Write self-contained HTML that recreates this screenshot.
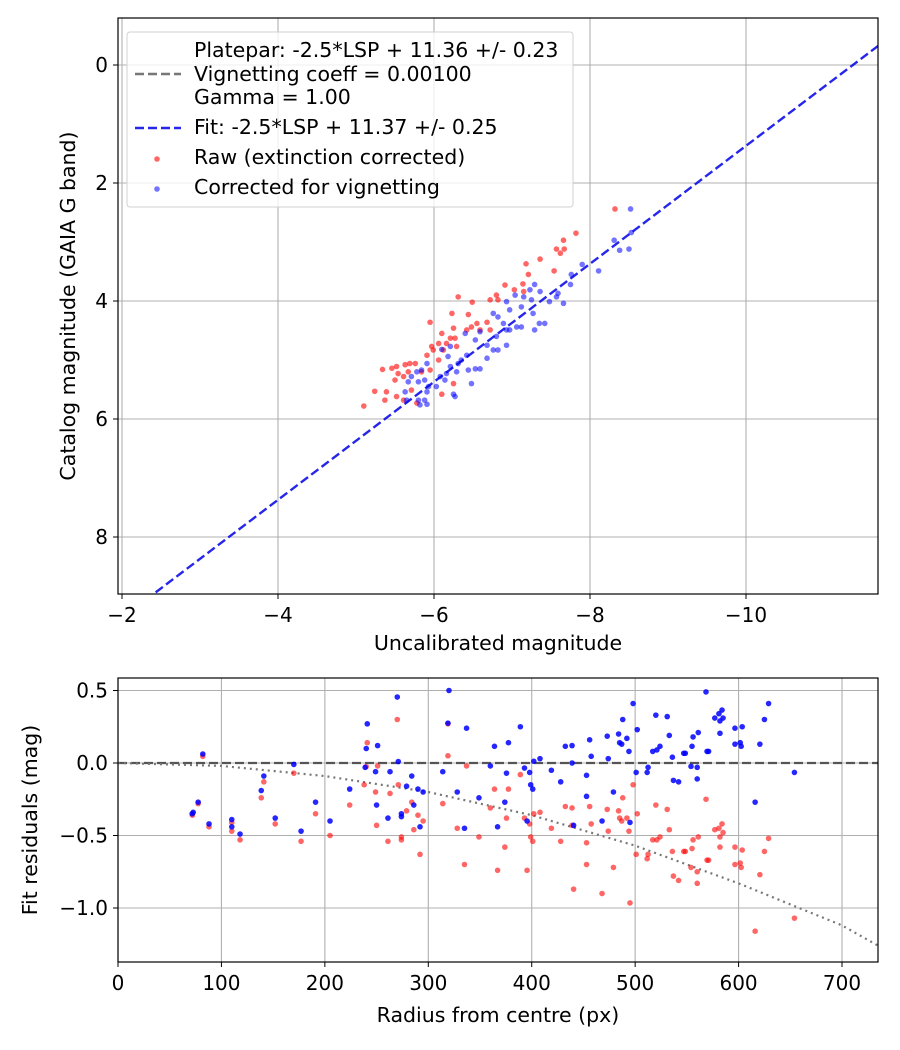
<!DOCTYPE html>
<html><head><meta charset="utf-8"><style>
html,body{margin:0;padding:0;background:#fff;}
svg{display:block;font-family:"DejaVu Sans","Liberation Sans",sans-serif;}
</style></head><body>
<svg id="fig" width="900" height="1050" viewBox="0 0 900 1050"></svg>
<script>
// ---------- Top chart data ----------
const rawX=[-8.32,-7.82,-7.66,-7.57,-7.67,-7.62,-7.36,-7.18,-7.54,-7.21,-6.91,-7.03,-7.14,-7.15,-6.80,-6.82,-6.72,-6.31,-6.49,-6.23,-6.44,-5.95,-6.55,-6.48,-6.68,-6.59,-6.72,-6.42,-6.25,-6.10,-6.21,-6.27,-6.06,-6.16,-5.97,-6.29,-5.99,-6.12,-5.91,-6.06,-5.76,-5.69,-5.63,-5.52,-5.46,-5.34,-5.54,-5.61,-5.50,-5.67,-5.84,-5.95,-5.71,-5.24,-5.39,-5.52,-5.37,-5.61,-5.78,-5.10,-6.10,-6.25];
const rawY=[2.44,2.85,2.97,3.12,3.12,3.19,3.29,3.37,3.49,3.55,3.73,3.81,3.71,3.84,3.90,3.98,3.98,3.93,4.02,4.21,4.23,4.36,4.38,4.44,4.36,4.49,4.49,4.49,4.46,4.55,4.63,4.63,4.72,4.72,4.77,4.77,4.83,4.83,4.92,5.00,5.06,5.06,5.08,5.11,5.14,5.16,5.23,5.28,5.34,5.20,5.20,5.17,5.51,5.53,5.54,5.62,5.68,5.68,5.73,5.78,5.58,5.40];
const corX=[-8.52,-8.31,-8.53,-8.38,-8.50,-8.11,-7.90,-7.76,-7.75,-7.57,-7.66,-7.59,-7.48,-7.36,-7.29,-7.23,-7.04,-6.93,-7.15,-7.25,-7.12,-6.97,-6.82,-6.76,-7.27,-7.35,-7.42,-7.29,-7.06,-6.93,-7.12,-6.89,-6.97,-6.80,-6.93,-6.82,-6.76,-6.68,-6.59,-6.53,-6.40,-6.68,-6.42,-6.35,-6.21,-6.10,-6.18,-6.31,-6.21,-6.29,-6.16,-6.44,-6.53,-6.59,-6.08,-6.14,-6.03,-6.48,-6.25,-6.27,-5.91,-5.84,-5.78,-5.80,-5.88,-5.71,-5.63,-5.91,-5.93,-5.65,-5.80,-5.88,-5.82,-5.91,-5.67];
const corY=[2.44,2.97,2.84,3.14,3.12,3.49,3.38,3.55,3.72,3.93,4.04,3.87,4.01,3.84,3.72,3.81,3.90,4.01,3.93,3.98,4.10,4.15,4.27,4.21,4.21,4.38,4.38,4.49,4.44,4.49,4.44,4.38,4.49,4.60,4.75,4.83,4.83,4.75,4.52,4.66,4.55,4.97,4.92,5.00,4.77,4.82,4.94,5.06,5.11,5.20,5.23,5.17,5.15,5.15,5.28,5.34,5.45,5.40,5.58,5.62,5.06,5.17,5.20,5.37,5.34,5.28,5.54,5.54,5.45,5.68,5.68,5.68,5.76,5.75,5.37];
const fitIntercept=11.37;
const topXTicks=[-2,-4,-6,-8,-10];
const topYTicks=[0,2,4,6,8];
// ---------- Bottom chart data ----------
const resBlueR=[82,77.5,72.7,71.7,88,110,110,118,141,138.5,152,170,177,191,205,224,241,240,251,239,249,263,270,271,284,279,290,295,250,261,274,274,286,292,320,319,337,314,328,335,349,364,360,367,377.5,389,375.6,393,398,402,408,399,401,374,395.5,419,428,432.5,439,439,440.5,453,456,457.5,453,468,473,474,479,484,485,487,488,492,494,495,498,502,501,511.6,512.5,517,521,524,520,531,533,536,537,542,547,548.5,555,556,561,554,560,560,568.5,569.5,571,577,581,582,584,585,582,596.5,603.5,596.5,601.6,602.5,616,620.6,625,629,654];
const resBlueV=[0.062,-0.27,-0.34,-0.35,-0.42,-0.39,-0.44,-0.49,-0.09,-0.19,-0.38,-0.01,-0.47,-0.27,-0.40,-0.18,0.27,0.10,0.12,-0.03,-0.06,-0.06,0.455,0.01,-0.09,-0.16,-0.18,-0.20,-0.29,-0.38,-0.35,-0.37,-0.29,-0.44,0.50,0.275,0.24,-0.06,-0.20,-0.45,-0.24,0.115,-0.02,-0.44,0.14,0.25,-0.07,-0.035,-0.065,0.012,0.03,-0.15,-0.18,-0.27,-0.40,-0.05,-0.13,0.115,0.12,0,-0.43,-0.085,0.16,0.046,-0.23,-0.40,0.185,0.03,-0.20,0.20,0.14,0.13,0.30,0.17,0.08,-0.41,0.41,0.23,-0.065,-0.065,-0.03,0.08,0.09,0.115,0.33,0.32,0.19,0.04,-0.12,-0.13,0.067,0.067,0.115,0.18,0.21,-0.023,-0.03,-0.11,0.49,0.08,0.08,0.31,0.34,0.29,0.365,0.31,0.205,0.24,0.25,0.13,0.14,0.115,-0.27,0.13,0.30,0.41,-0.065];
const resRedR=[82,77.5,72,88,110,110,118,141,138.5,152,170,177,191,205,224,241,240,251,238,249,263,270,271,284,279,290,295,250,261,274,274,286,292,319,319,337,314,328,335,349,364,360,367,377.5,389,375.6,393,398,402,408,399,401,374,395.5,419,428,432.5,439,439,440.5,453,456,457.5,453,468,473,474,479,484,485,487,488,492,494,495,498,502,501,511.6,512.5,517,521,524,520,531,533,536,537,542,547,548.5,555,556,561,554,560,560,568.5,569.5,571,577,581,582,584,585,582,596.5,603.5,596.5,601.6,602.5,616,620.6,625,629,654];
const resRedV=[0.046,-0.28,-0.36,-0.44,-0.41,-0.47,-0.53,-0.13,-0.24,-0.42,-0.07,-0.54,-0.35,-0.50,-0.29,0.14,-0.025,-0.02,-0.15,-0.20,-0.21,0.30,-0.15,-0.27,-0.33,-0.36,-0.40,-0.43,-0.54,-0.51,-0.53,-0.46,-0.63,0.27,0.05,-0.02,-0.28,-0.45,-0.70,-0.51,-0.18,-0.31,-0.74,-0.18,-0.08,-0.38,-0.38,-0.42,-0.35,-0.34,-0.51,-0.54,-0.58,-0.74,-0.45,-0.54,-0.30,-0.31,-0.43,-0.87,-0.55,-0.30,-0.42,-0.70,-0.90,-0.32,-0.47,-0.72,-0.33,-0.38,-0.40,-0.24,-0.38,-0.47,-0.965,-0.15,-0.35,-0.63,-0.66,-0.63,-0.53,-0.53,-0.51,-0.29,-0.32,-0.46,-0.61,-0.78,-0.81,-0.61,-0.61,-0.59,-0.53,-0.51,-0.72,-0.75,-0.83,-0.25,-0.67,-0.67,-0.46,-0.45,-0.51,-0.42,-0.48,-0.58,-0.58,-0.60,-0.70,-0.69,-0.72,-1.16,-0.77,-0.61,-0.52,-1.07];
const vigR=[0,100,200,300,400,500,600,700,735];
const vigV=[0,-0.02,-0.09,-0.2,-0.36,-0.57,-0.83,-1.12,-1.26];
const botXTicks=[0,100,200,300,400,500,600,700];
const botYTicks=[0.5,0,-0.5,-1.0];
const botYLabels=["0.5","0.0","\u22120.5","\u22121.0"];

const NS="http://www.w3.org/2000/svg";
const svg=document.getElementById('fig');
function mk(tag,attrs,parent){const e=document.createElementNS(NS,tag);for(const k in attrs)e.setAttribute(k,attrs[k]);(parent||svg).appendChild(e);return e;}
function txt(s,attrs,parent){const e=mk('text',attrs,parent);e.textContent=s;return e;}
const FT=20.5, FK=20;

// ---- Top axes ----
const T={l:118,r:878,t:18,b:594};
const tx=v=>122+(-2-v)*78;
const ty=v=>65+v*59;
const gTop=mk('g',{});


const clipT=mk('clipPath',{id:'ct'},gTop);mk('rect',{x:T.l,y:T.t,width:T.r-T.l,height:T.b-T.t},clipT);
topXTicks.forEach(v=>{const x=tx(v);
 const g=mk('line',{x1:x,x2:x,y1:T.t,y2:T.b,stroke:'#b0b0b0','stroke-width':1.1},gTop);
 
 mk('line',{x1:x,x2:x,y1:T.b,y2:T.b+5,stroke:'#000','stroke-width':1},gTop);
 const t=txt(v<0?'\u2212'+(-v):String(v),{x:x,y:T.b+28,'font-size':FK,'text-anchor':'middle'},gTop);
 });
topYTicks.forEach(v=>{const y=ty(v);
 const g=mk('line',{x1:T.l,x2:T.r,y1:y,y2:y,stroke:'#b0b0b0','stroke-width':1.1},gTop);
 
 mk('line',{x1:T.l-5,x2:T.l,y1:y,y2:y,stroke:'#000','stroke-width':1},gTop);
 const t=txt(String(v),{x:T.l-10,y:y+7,'font-size':FK,'text-anchor':'end'},gTop);
 });
const pTop=mk('g',{'clip-path':'url(#ct)'},gTop);
rawX.forEach((v,i)=>{const c=mk('circle',{cx:tx(v),cy:ty(rawY[i]),r:2.8,fill:'rgba(255,0,0,0.6)'},pTop);
 });
corX.forEach((v,i)=>{const c=mk('circle',{cx:tx(v),cy:ty(corY[i]),r:2.8,fill:'rgba(0,0,255,0.55)'},pTop);
 });
const x0=-1.9,x1=-11.8;
const fl=mk('line',{x1:tx(x0),y1:ty(x0+fitIntercept),x2:tx(x1),y2:ty(x1+fitIntercept),stroke:'rgba(0,0,230,0.85)','stroke-width':2.4,'stroke-dasharray':'9,4'},pTop);

mk('rect',{x:T.l,y:T.t,width:T.r-T.l,height:T.b-T.t,fill:'none',stroke:'#000','stroke-width':1.2},gTop);
const xl=txt('Uncalibrated magnitude',{x:498,y:650,'font-size':FT,'text-anchor':'middle'},gTop);

const yl=txt('Catalog magnitude (GAIA G band)',{x:0,y:0,'font-size':FT,'text-anchor':'middle',transform:'translate(75,306) rotate(-90)'},gTop);

// legend
const lg=mk('g',{},gTop);

mk('rect',{x:127,y:32,width:446,height:175,rx:3,fill:'rgba(255,255,255,0.8)',stroke:'#d0d0d0'},lg);
mk('line',{x1:135,x2:181,y1:74,y2:74,stroke:'#777','stroke-width':2.4,'stroke-dasharray':'9,4'},lg);
mk('line',{x1:135,x2:181,y1:128,y2:128,stroke:'rgba(0,0,230,0.85)','stroke-width':2.4,'stroke-dasharray':'9,4'},lg);
mk('circle',{cx:157,cy:159,r:2.8,fill:'rgba(255,0,0,0.6)'},lg);
mk('circle',{cx:157,cy:189,r:2.8,fill:'rgba(0,0,255,0.55)'},lg);
[['Platepar: -2.5*LSP + 11.36 +/- 0.23',57],['Vignetting coeff = 0.00100',81],['Gamma = 1.00',104],['Fit: -2.5*LSP + 11.37 +/- 0.25',134],['Raw (extinction corrected)',164],['Corrected for vignetting',194]].forEach(a=>{
 const t=txt(a[0],{x:194,y:a[1],'font-size':FT},lg);});

// ---- Bottom axes ----
const B={l:118,r:878,t:678,b:962};
const bx=v=>118+v*1.0343;
const by=v=>763-v*145;
const gBot=mk('g',{});


const clipB=mk('clipPath',{id:'cb'},gBot);mk('rect',{x:B.l,y:B.t,width:B.r-B.l,height:B.b-B.t},clipB);
botXTicks.forEach(v=>{const x=bx(v);
 const g=mk('line',{x1:x,x2:x,y1:B.t,y2:B.b,stroke:'#b0b0b0','stroke-width':1.1},gBot);
 
 mk('line',{x1:x,x2:x,y1:B.b,y2:B.b+5,stroke:'#000','stroke-width':1},gBot);
 const t=txt(String(v),{x:x,y:B.b+28,'font-size':FK,'text-anchor':'middle'},gBot);
 });
botYTicks.forEach((v,i)=>{const y=by(v);
 const g=mk('line',{x1:B.l,x2:B.r,y1:y,y2:y,stroke:'#b0b0b0','stroke-width':1.1},gBot);
 
 mk('line',{x1:B.l-5,x2:B.l,y1:y,y2:y,stroke:'#000','stroke-width':1},gBot);
 const t=txt(botYLabels[i],{x:B.l-10,y:y+7,'font-size':FK,'text-anchor':'end'},gBot);
 });
const pBot=mk('g',{'clip-path':'url(#cb)'},gBot);
const zl=mk('line',{x1:B.l,x2:B.r,y1:by(0),y2:by(0),stroke:'#555','stroke-width':2.2,'stroke-dasharray':'9,4'},pBot);

const vc=mk('polyline',{points:vigR.map((r,i)=>bx(r)+','+by(vigV[i])).join(' '),fill:'none',stroke:'#777','stroke-width':2.2,'stroke-dasharray':'2,4'},pBot);

resRedR.forEach((v,i)=>{const c=mk('circle',{cx:bx(v),cy:by(resRedV[i]),r:2.8,fill:'rgba(255,0,0,0.6)'},pBot);
 });
resBlueR.forEach((v,i)=>{const c=mk('circle',{cx:bx(v),cy:by(resBlueV[i]),r:2.8,fill:'rgba(0,0,255,0.85)'},pBot);
 });
mk('rect',{x:B.l,y:B.t,width:B.r-B.l,height:B.b-B.t,fill:'none',stroke:'#000','stroke-width':1.2},gBot);
const bxl=txt('Radius from centre (px)',{x:498,y:1022,'font-size':FT,'text-anchor':'middle'},gBot);

const byl=txt('Fit residuals (mag)',{x:0,y:0,'font-size':FT,'text-anchor':'middle',transform:'translate(37,820) rotate(-90)'},gBot);

</script>
</body></html>
